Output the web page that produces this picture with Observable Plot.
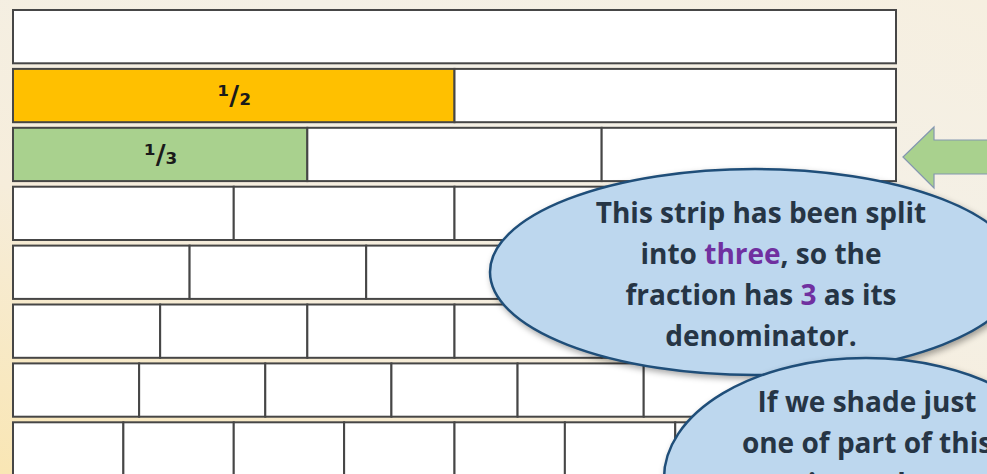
<!DOCTYPE html>
<html><head><meta charset="utf-8">
<script src="https://cdn.jsdelivr.net/npm/d3@7"></script>
<script src="https://cdn.jsdelivr.net/npm/@observablehq/plot@0.6"></script>
<style>
html,body{margin:0;padding:0;overflow:hidden;}
</style>
</head><body><div id="chart"></div>
<script>
// ---- data ----
const denominators = [1, 2, 3, 4, 5, 6, 7, 8];
const shadedDenominators = [2, 3];
const shadedColors = ["#ffc000", "#a9d18e"];
const shadedLabels = ["¹/₂", "¹/₃"];
const callout1Lines = [
  [["This strip has been split", false]],
  [["into ", false], ["three", true], [", so the", false]],
  [["fraction has ", false], ["3", true], [" as its", false]],
  [["denominator.", false]]
];
const callout2Lines = [
  [["If we shade just", false]],
  [["one of part of this", false]],
  [["strip, we have", false]]
];

// ---- build table ----
const cells = [];
denominators.forEach((d, row) => {
  const si = shadedDenominators.indexOf(d);
  for (let k = 0; k < d; k++) {
    cells.push({
      row, d, k,
      x1: k / d, x2: (k + 1) / d,
      fill: (k === 0 && si >= 0) ? shadedColors[si] : "#ffffff"
    });
  }
});
const labels = shadedDenominators.map((d, i) => ({
  row: denominators.indexOf(d), x: 0.5 / d, text: shadedLabels[i]
}));

// ---- layout (pixels) ----
const W = 987, H = 474;
const xRange = [13, 896];
const rowPitch = 58.9, rowTop = 10, rowFrac = 0.905;

function calloutMark(c, lines) {
  return () => {
    const g = d3.create("svg:g");
    g.append("ellipse")
      .attr("cx", c.cx).attr("cy", c.cy).attr("rx", c.rx).attr("ry", c.ry)
      .attr("fill", "#bdd7ee").attr("stroke", "#1f4e79").attr("stroke-width", 2.5)
      .style("filter", "drop-shadow(2px 3px 3px rgba(0,0,0,0.35))");
    const t = g.append("text")
      .attr("text-anchor", "middle")
      .attr("font-family", "'Open Sans', Lato, sans-serif")
      .attr("font-weight", 700)
      .attr("font-size", c.fs)
      .attr("fill", "#263545");
    lines.forEach((segs, i) => {
      const line = t.append("tspan").attr("x", c.tx).attr("y", c.ty + i * c.lh);
      segs.forEach(([s, hi]) => {
        const sp = line.append("tspan").text(s);
        if (hi) sp.attr("fill", "#7030a0");
      });
    });
    return g.node();
  };
}

const arrowMark = () => {
  const g = d3.create("svg:g");
  g.append("path")
    .attr("d", "M903,157 L934,127 L934,140 L992,140 L992,174 L934,174 L934,188 Z")
    .attr("fill", "#a9d18e").attr("stroke", "#8497b0").attr("stroke-width", 1.2);
  return g.node();
};

const plot = Plot.plot({
  width: W, height: H,
  margin: 0,
  style: {
    background: "linear-gradient(20deg, #f9e6b4 0%, #f6eddb 35%, #f4f0e6 70%, #f6efe0 100%)",
    overflow: "hidden"
  },
  x: {domain: [0, 1], range: xRange, axis: null},
  y: {domain: [0, denominators.length], range: [rowTop, rowTop + rowPitch * denominators.length], axis: null},
  marks: [
    Plot.rect(cells, {
      x1: "x1", x2: "x2",
      y1: "row", y2: d => d.row + rowFrac,
      fill: "fill",
      stroke: "#464646", strokeWidth: 2,
      style: "filter: drop-shadow(0px 1.5px 1.2px rgba(60,55,45,0.55))"
    }),
    Plot.text(labels, {
      x: "x", y: d => d.row + rowFrac / 2, text: "text",
      fontSize: 27, fontWeight: "bold", fill: "#1a1a1a",
      fontFamily: "DejaVu Sans"
    }),
    arrowMark,
    calloutMark({cx: 755, cy: 272, rx: 265, ry: 103, tx: 761, ty: 223, lh: 41, fs: 28}, callout1Lines),
    calloutMark({cx: 866, cy: 478, rx: 202, ry: 120, tx: 867, ty: 412, lh: 41, fs: 28}, callout2Lines)
  ]
});
document.getElementById("chart").appendChild(plot);
</script>
</body></html>
